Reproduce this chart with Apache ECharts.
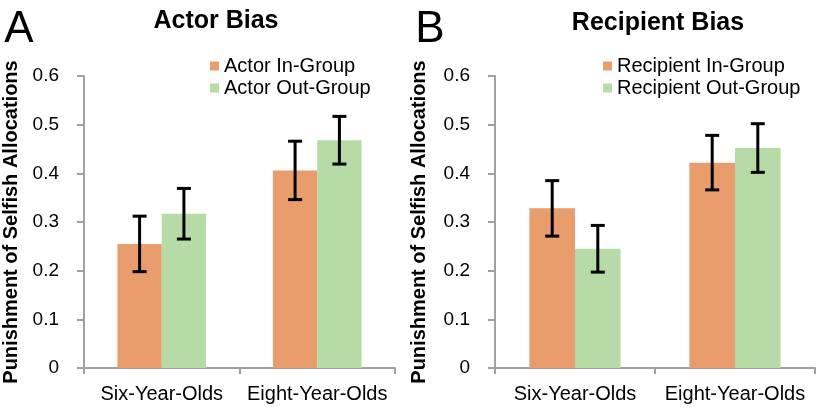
<!DOCTYPE html>
<html>
<head>
<meta charset="utf-8">
<script src="https://cdn.jsdelivr.net/npm/echarts@6/dist/echarts.min.js"></script>
<style>html,body{margin:0;padding:0;background:#fff}#c{width:816px;height:408px}</style>
</head>
<body>
<div id="c"></div>
<script>
const categories = ['Six-Year-Olds', 'Eight-Year-Olds'];
const yTicks = [0, 0.1, 0.2, 0.3, 0.4, 0.5, 0.6];
const actorIn = [0.255, 0.406];
const actorInErr = [0.057, 0.060];
const actorOut = [0.317, 0.468];
const actorOutErr = [0.052, 0.049];
const recipIn = [0.328, 0.422];
const recipInErr = [0.057, 0.056];
const recipOut = [0.245, 0.452];
const recipOutErr = [0.048, 0.050];

const FONT = 'Liberation Sans, Arial, sans-serif';
const ORANGE = '#E99C6C';
const GREEN = '#B6DBA6';
const AXIS = '#A0A0A0';
const BARFRAC = 0.285;

function errData(vals, errs, dir) {
  return vals.map((v, i) => [i, v, errs[i], dir]);
}
function renderErr(params, api) {
  const i = api.value(0), v = api.value(1), e = api.value(2), dir = api.value(3);
  const band = api.size([1, 0])[0];
  const cx = api.coord([i, v])[0] + dir * band * BARFRAC / 2;
  const yt = api.coord([i, v + e])[1];
  const yb = api.coord([i, v - e])[1];
  const hw = 7;
  const st = { stroke: '#000', lineWidth: 3 };
  return {
    type: 'group',
    children: [
      { type: 'line', shape: { x1: cx, y1: yt, x2: cx, y2: yb }, style: st },
      { type: 'line', shape: { x1: cx - hw, y1: yt, x2: cx + hw, y2: yt }, style: st },
      { type: 'line', shape: { x1: cx - hw, y1: yb, x2: cx + hw, y2: yb }, style: st }
    ]
  };
}

function xAxis(idx) {
  return {
    type: 'category', gridIndex: idx, data: categories,
    axisLine: { lineStyle: { color: AXIS, width: 2 } },
    axisTick: { show: true, length: 6, lineStyle: { color: AXIS, width: 2 } },
    axisLabel: { color: '#000', fontSize: 20, fontFamily: FONT, margin: 16, interval: 0, hideOverlap: false }
  };
}
function yAxis(idx, gap) {
  return {
    type: 'value', gridIndex: idx, min: yTicks[0], max: yTicks[yTicks.length - 1], interval: 0.1,
    name: 'Punishment of Selfish Allocations', nameLocation: 'middle', nameGap: gap,
    nameTextStyle: { color: '#000', fontSize: 20, fontWeight: 'bold', fontFamily: FONT },
    splitLine: { show: false },
    axisLine: { show: true, lineStyle: { color: AXIS, width: 2 } },
    axisTick: { show: true, length: 7, lineStyle: { color: AXIS, width: 2 } },
    axisLabel: { color: '#000', fontSize: 19, fontFamily: FONT, margin: 25,
      formatter: v => (Math.abs(v) < 1e-9 ? '0' : v.toFixed(1)) }
  };
}
function bar(name, data, color, idx) {
  return {
    name: name, type: 'bar', xAxisIndex: idx, yAxisIndex: idx, data: data,
    barWidth: (BARFRAC * 100) + '%', barGap: '0%',
    itemStyle: { color: color }
  };
}
function err(vals, errs, dir, idx) {
  return {
    type: 'custom', xAxisIndex: idx, yAxisIndex: idx, data: errData(vals, errs, dir),
    renderItem: renderErr, z: 10, silent: true
  };
}
function legend(names, left) {
  return {
    orient: 'vertical', left: left, top: 56, padding: 0, itemGap: 2,
    itemWidth: 9, itemHeight: 9, icon: 'rect', data: names,
    textStyle: { color: '#000', fontSize: 20, fontFamily: FONT, lineHeight: 20 }
  };
}

const chart = echarts.init(document.getElementById('c'));
chart.setOption({
  animation: false,
  backgroundColor: '#fff',
  grid: [
    { left: 76, top: 76, width: 319, height: 292 },
    { left: 495, top: 76, width: 320, height: 292 }
  ],
  xAxis: [xAxis(0), xAxis(1)],
  yAxis: [yAxis(0, 63), yAxis(1, 66)],
  legend: [
    legend(['Actor In-Group', 'Actor Out-Group'], 210),
    legend(['Recipient In-Group', 'Recipient Out-Group'], 603)
  ],
  graphic: [
    { type: 'text', x: 19, y: 30, style: { text: 'A', font: '44px ' + FONT, fill: '#000', align: 'center', verticalAlign: 'middle' } },
    { type: 'text', x: 430, y: 30, style: { text: 'B', font: '44px ' + FONT, fill: '#000', align: 'center', verticalAlign: 'middle' } },
    { type: 'text', x: 216, y: 21, style: { text: 'Actor Bias', font: 'bold 25px ' + FONT, fill: '#000', align: 'center', verticalAlign: 'middle' } },
    { type: 'text', x: 658, y: 23, style: { text: 'Recipient Bias', font: 'bold 25px ' + FONT, fill: '#000', align: 'center', verticalAlign: 'middle' } }
  ],
  series: [
    bar('Actor In-Group', actorIn, ORANGE, 0),
    bar('Actor Out-Group', actorOut, GREEN, 0),
    err(actorIn, actorInErr, -1, 0),
    err(actorOut, actorOutErr, 1, 0),
    bar('Recipient In-Group', recipIn, ORANGE, 1),
    bar('Recipient Out-Group', recipOut, GREEN, 1),
    err(recipIn, recipInErr, -1, 1),
    err(recipOut, recipOutErr, 1, 1)
  ]
});
</script>
</body>
</html>
